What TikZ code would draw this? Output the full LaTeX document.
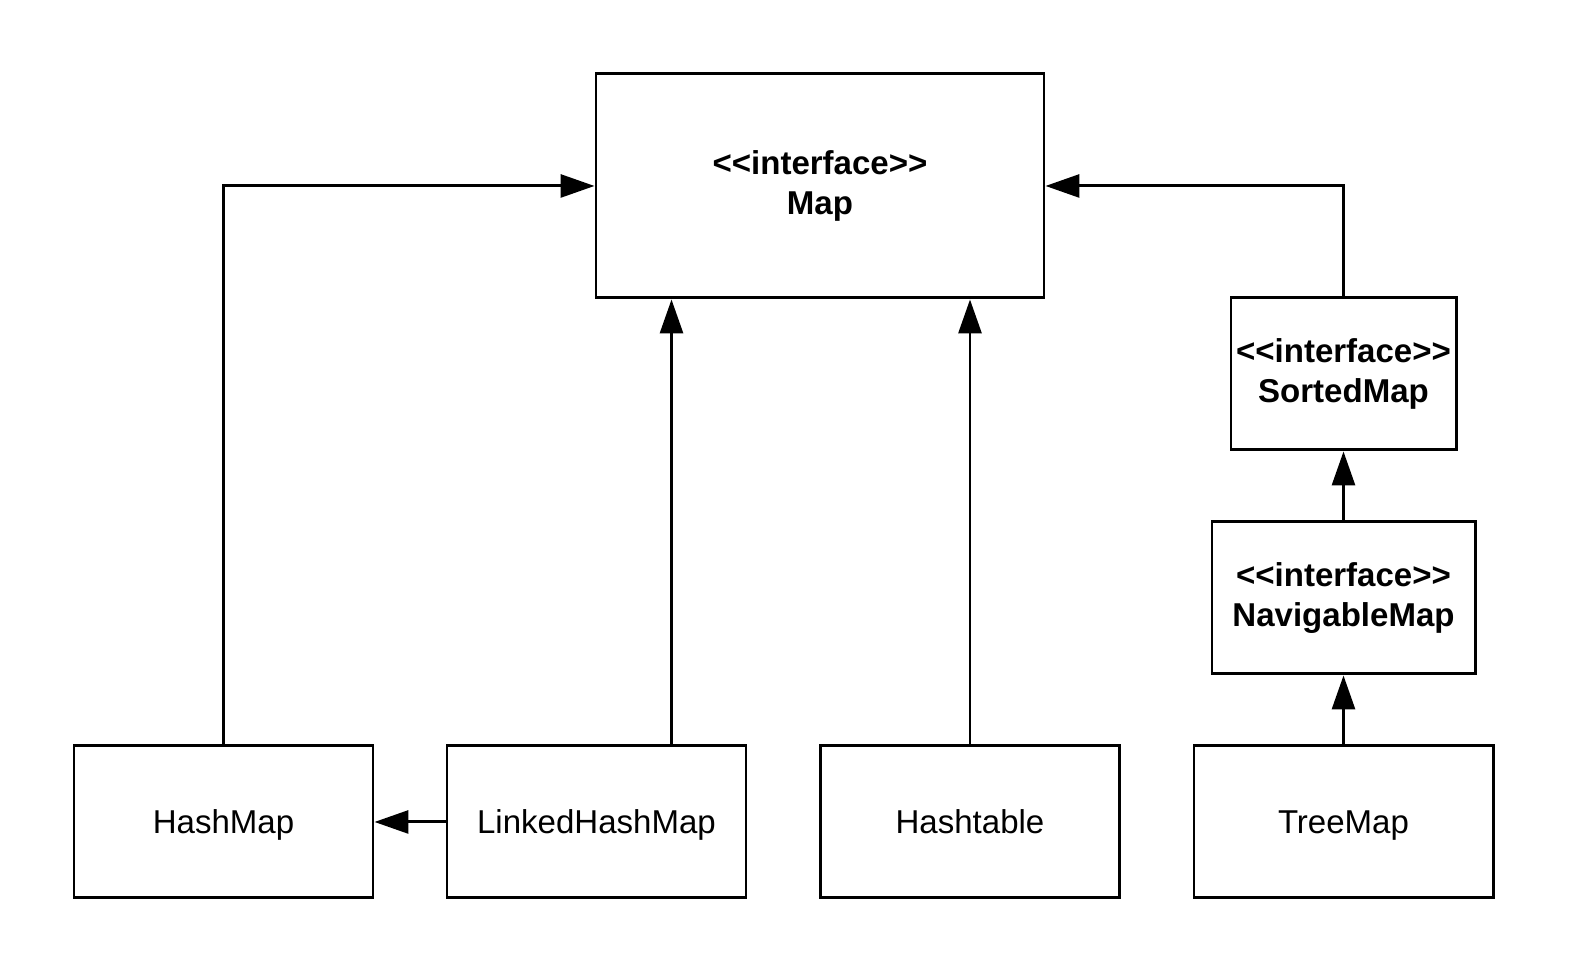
\documentclass[tikz,border=0pt]{standalone}
\usepackage{fontspec}
\newfontfamily\umlfont{Liberation Sans}
\usetikzlibrary{arrows.meta}
\begin{document}
\begin{tikzpicture}[
    caja/.style={draw, line width=0.85pt, align=center, inner sep=0pt,
      font=\umlfont\fontsize{9.4}{11.4}\selectfont},
    clase/.style={caja, minimum width=2.99cm, minimum height=1.52cm,
      text height=1.55ex, text depth=0pt},
    flecha/.style={-{Triangle[length=3.4mm, width=2.3mm]}, line width=0.85pt}
  ]
                \useasboundingbox (0, 0) rectangle (15.75, 9.77);

                % Interfaces
                \node[caja, minimum width=4.48cm, minimum height=2.24cm] (map) at (8.20, 7.91)
                  {\bfseries <<interface>>\\\bfseries Map};
                \node[caja, minimum width=2.25cm, minimum height=1.52cm] (sorted) at (13.435, 6.03)
                  {\bfseries <<interface>>\\\bfseries SortedMap};
                \node[caja, minimum width=2.63cm, minimum height=1.52cm] (navigable) at (13.435, 3.79)
                  {\bfseries <<interface>>\\\bfseries NavigableMap};

                % Clases
                \node[clase] (hashmap) at (2.235, 1.55) {HashMap};
                \node[clase] (linked) at (5.965, 1.55) {LinkedHashMap};
                \node[clase] (hashtable) at (9.70, 1.55) {Hashtable};
                \node[clase] (treemap) at (13.435, 1.55) {TreeMap};

                \coordinate (mapizq) at ([xshift=0.77cm]map.south west);

                % Herencia
                \draw[flecha] (hashmap.north) |- (map.west);
                \draw[flecha] (linked.north -| mapizq) -- (mapizq);
                \draw[flecha] (hashtable.north) -- (hashtable.north |- map.south);
                \draw[flecha] (sorted.north) |- (map.east);
                \draw[flecha] (navigable.north) -- (sorted.south);
                \draw[flecha] (treemap.north) -- (navigable.south);
                \draw[flecha] (linked.west) -- (hashmap.east);
            \end{tikzpicture}
\end{document}
